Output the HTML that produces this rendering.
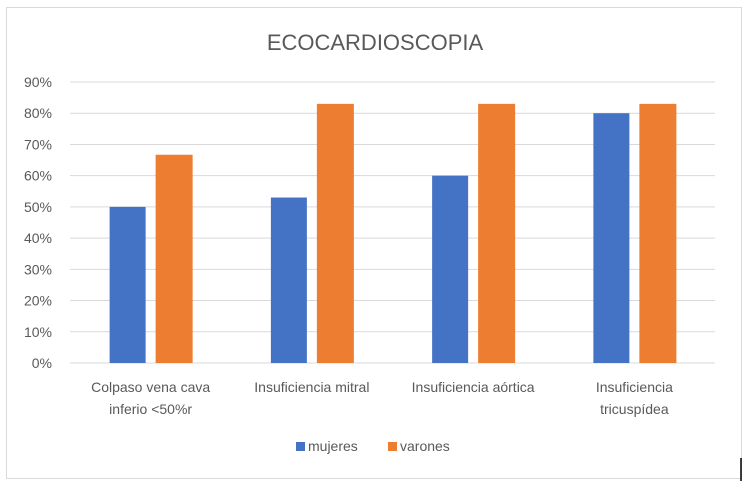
<!DOCTYPE html>
<html><head><meta charset="utf-8"><style>
body{margin:0;background:#fff;}
svg text{font-family:"Liberation Sans",sans-serif;fill:#595959;}
</style></head><body>
<svg width="750" height="487" xmlns="http://www.w3.org/2000/svg">
<rect x="6.5" y="7.5" width="735" height="471" fill="#fff" stroke="#d9d9d9"/>
<line x1="741" y1="458" x2="741" y2="481" stroke="#000" stroke-width="1.5"/>
<text x="375" y="50" font-size="22" text-anchor="middle">ECOCARDIOSCOPIA</text>
<g id="grid"></g><g id="bars"></g><g id="labels"></g>
<g>
<rect x="296" y="442" width="9" height="9" fill="#4472c4"/>
<text x="308" y="451" font-size="14">mujeres</text>
<rect x="388" y="442" width="9" height="9" fill="#ed7d31"/>
<text x="400" y="451" font-size="14">varones</text>
</g>
</svg>
<script>
const categories=[["Colpaso vena cava","inferio  <50%r"],["Insuficiencia mitral"],["Insuficiencia aórtica"],["Insuficiencia","tricuspídea"]];
const mujeres=[50,53,60,80];
const varones=[66.7,83,83,83];
const ticks=[0,10,20,30,40,50,60,70,80,90];
const NS="http://www.w3.org/2000/svg";
const L=70,R=715,T=82,B=363,MAX=90;
const y=v=>B-(v/MAX)*(B-T);
const cw=(R-L)/categories.length;
const cx=i=>L+cw*(i+0.5);
function mk(t,a,p){const e=document.createElementNS(NS,t);for(const k in a)e.setAttribute(k,a[k]);p.appendChild(e);return e;}
const g=document.getElementById('grid');
ticks.forEach(t=>{
 const l=mk('line',{x1:L,x2:R,y1:y(t),y2:y(t),stroke:'#d9d9d9','stroke-width':1},g);
 
 
 const tx=mk('text',{x:52,y:y(t)+5,'font-size':14,'text-anchor':'end'},g);
 tx.textContent=t+'%';
 
 
});
const b=document.getElementById('bars');
const bw=36;
categories.forEach((c,i)=>{
 const r1=mk('rect',{x:cx(i)-41,y:y(mujeres[i]),width:bw,height:B-y(mujeres[i]),fill:'#4472c4'},b);
 
 
 const r2=mk('rect',{x:cx(i)+5,y:y(varones[i]),width:bw+1,height:B-y(varones[i]),fill:'#ed7d31'},b);
 
 
 const tx=mk('text',{x:cx(i),y:392,'font-size':14,'text-anchor':'middle'},document.getElementById('labels'));
 
 
 c.forEach((line,j)=>{const ts=mk('tspan',{x:cx(i),dy:j?22:0},tx);ts.textContent=line;});
});
</script>
</body></html>
